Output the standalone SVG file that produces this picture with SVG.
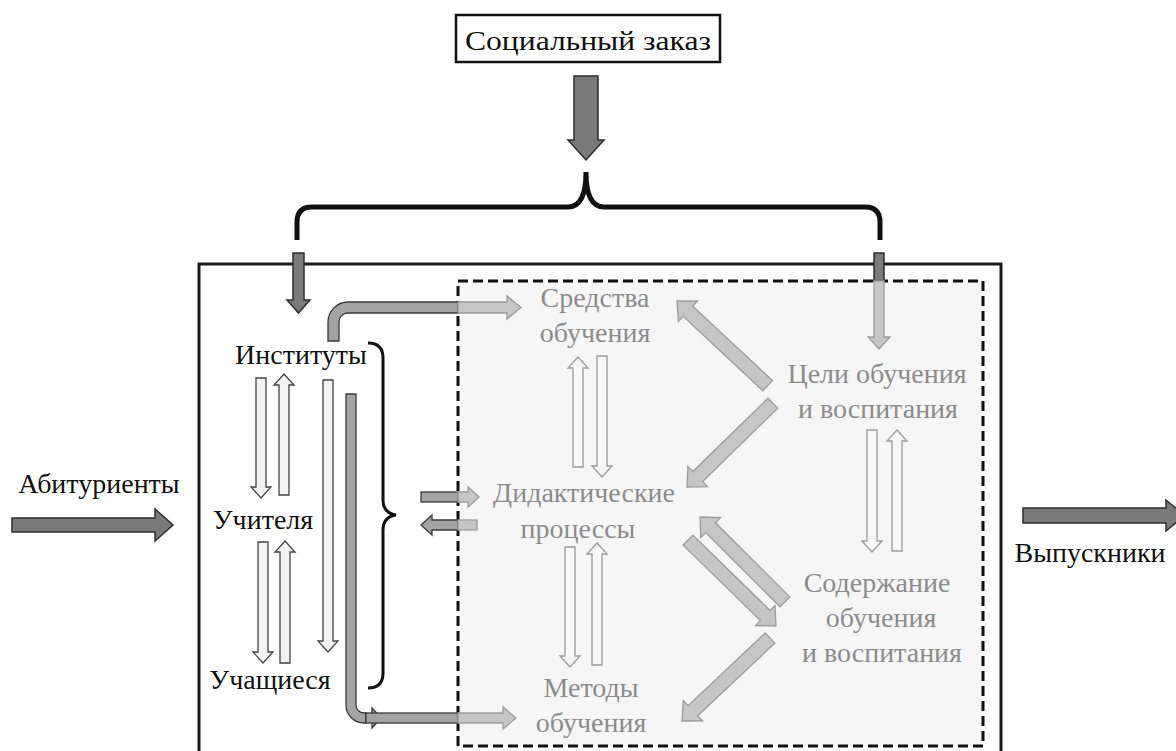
<svg xmlns="http://www.w3.org/2000/svg" width="1176" height="751" viewBox="0 0 1176 751">
<style>
text{font-family:"Liberation Serif",Tinos,"Times New Roman","DejaVu Serif",serif;font-size:28px;text-anchor:middle}
.blk{fill:#111}
.gry{fill:#8c8c8c}
.dark{fill:#7a7a7a;stroke:#2e2e2e;stroke-width:1.5}
.mid{fill:#a3a3a3;stroke:#3a3a3a;stroke-width:1.3}
.lite{fill:#c6c6c6;stroke:#9c9c9c;stroke-width:1.3}
.wht{fill:#f3f3f3;stroke:#444;stroke-width:1.3}
.whtg{fill:#f7f7f7;stroke:#9a9a9a;stroke-width:1.3}
</style>
<rect width="1176" height="751" fill="#fff"/>

<g id="frame">
<rect x="199" y="264" width="802" height="500" fill="none" stroke="#1a1a1a" stroke-width="3"/>
<rect x="458" y="281" width="525" height="465" fill="#f6f6f6" stroke="#111" stroke-width="3" stroke-dasharray="10 5"/>
</g>

<g id="social">
<rect x="456" y="15" width="264" height="47" fill="#fff" stroke="#111" stroke-width="2.5"/>
<text x="588" y="50" class="blk" font-size="31" textLength="246" lengthAdjust="spacingAndGlyphs">Социальный  заказ</text>
</g>

<g id="braces" fill="none" stroke="#111">
<path d="M297,240 L297,222 Q297,207 312,207 L568,207 Q586,207 586,172 Q586,207 604,207 L865,207 Q880,207 880,222 L880,240" stroke-width="5"/>
<path d="M368,343 Q383,343 383,358 L383,500 Q383,513 396,515 Q383,517 383,530 L383,673 Q383,688 368,688" stroke-width="3"/>
</g>

<g id="connectors">
<polygon class="dark" points="574,76 598,76 598,140 604,140 586,160 568,140 574,140"/>
<polygon class="dark" points="293,253 304,253 304,300 310,300 298.5,313 287,300 293,300"/>
<rect class="dark" x="874" y="253" width="10" height="28"/>
<polygon class="lite" points="874,281 884,281 884,337 890,337 879,349 868,337 874,337"/>
<polygon class="dark" points="12,518 155,518 155,509 173,525 155,541 155,532 12,532"/>
<polygon class="dark" points="1023,508 1166,508 1166,500 1185,515.5 1166,531 1166,523 1023,523"/>
<polygon class="wht" points="256,378 266,378 266,487 271,487 261,498 251,487 256,487"/>
<polygon class="wht" points="279,495 289,495 289,385 294,385 284,374 274,385 279,385"/>
<polygon class="wht" points="258,542 268,542 268,652 273,652 263,663 253,652 258,652"/>
<polygon class="wht" points="280,663 290,663 290,552 295,552 285,541 275,552 280,552"/>
<polygon class="wht" points="323,380 333,380 333,641 338,641 328,652 318,641 323,641"/>
<path class="mid" d="M328,341 L328,322 A20,20 0 0 1 348,302 L458,302 L458,313 L348,313 A9,9 0 0 0 339,322 L339,341 Z"/>
<polygon class="lite" points="458,302 507,302 507,296 521,307.5 507,319 507,313 458,313"/>
<path class="mid" d="M346,394 L356,394 L356,705 A8,8 0 0 0 364,713 L366,713 L366,723 L364,723 A18,18 0 0 1 346,705 Z"/>
<polygon class="mid" points="372,708 381,718 372,728"/>
<rect class="mid" x="366" y="713" width="92" height="10"/>
<polygon class="lite" points="458,713 503,713 503,707 516,718 503,729 503,723 458,723"/>
<rect class="mid" x="421" y="492" width="37" height="10"/>
<polygon class="lite" points="458,492 468,492 468,487 479,497 468,507 468,502 458,502"/>
<polygon class="mid" points="458,520 432,520 432,515 421,525 432,535 432,530 458,530"/>
<rect class="lite" x="458" y="520" width="19" height="10"/>
<polygon class="whtg" points="573,467 583,467 583,368 588,368 578,357 568,368 573,368"/>
<polygon class="whtg" points="597,356 607,356 607,466 612,466 602,477 592,466 597,466"/>
<polygon class="whtg" points="565,547 575,547 575,656 580,656 570,667 560,656 565,656"/>
<polygon class="whtg" points="592,665 602,665 602,554 607,554 597,543 587,554 592,554"/>
<polygon class="whtg" points="867,430 877,430 877,541 882,541 872,552 862,541 867,541"/>
<polygon class="whtg" points="892,551 902,551 902,441 907,441 897,430 887,441 892,441"/>
<g class="lite">
<polygon transform="translate(677,301) rotate(-136.95)" points="0,0 -15,-14 -15,-7 -124,-7 -124,7 -15,7 -15,14"/>
<polygon transform="translate(687,487) rotate(135.7)" points="0,0 -15,-14 -15,-7 -120,-7 -120,7 -15,7 -15,14"/>
<polygon transform="translate(700,517) rotate(-135)" points="0,0 -15,-14 -15,-7 -120,-7 -120,7 -15,7 -15,14"/>
<polygon transform="translate(776,626) rotate(44.3)" points="0,0 -15,-14 -15,-7 -123,-7 -123,7 -15,7 -15,14"/>
<polygon transform="translate(682,721) rotate(136.7)" points="0,0 -15,-14 -15,-7 -121,-7 -121,7 -15,7 -15,14"/>
</g>
</g>

<g id="n-abit"><text x="99" y="493" class="blk">Абитуриенты</text></g>
<g id="n-vyp"><text x="1090" y="562" class="blk">Выпускники</text></g>
<g id="n-inst"><text x="301" y="364" class="blk">Институты</text></g>
<g id="n-uch"><text x="263" y="529" class="blk">Учителя</text></g>
<g id="n-uchsh"><text x="270" y="689" class="blk">Учащиеся</text></g>
<g id="n-sredstva"><text x="595" y="307" class="gry">Средства</text><text x="595" y="342" class="gry">обучения</text></g>
<g id="n-celi"><text x="877" y="383" class="gry">Цели обучения</text><text x="878" y="418" class="gry">и воспитания</text></g>
<g id="n-did"><text x="584" y="502" class="gry">Дидактические</text><text x="578" y="538" class="gry">процессы</text></g>
<g id="n-sod"><text x="877" y="592" class="gry">Содержание</text><text x="881" y="627" class="gry">обучения</text><text x="882" y="662" class="gry">и воспитания</text></g>
<g id="n-met"><text x="591" y="697" class="gry">Методы</text><text x="591" y="732" class="gry">обучения</text></g>
</svg>
